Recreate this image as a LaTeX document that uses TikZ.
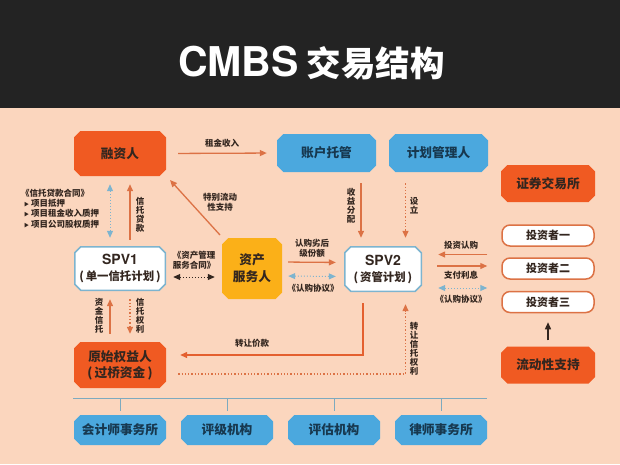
\documentclass[tikz,border=0pt]{standalone}
\usepackage{fontspec}
\usepackage{xcolor}
\setmainfont{Noto Sans CJK SC}
\newfontfamily\latinfont{TeX Gyre Heros}
\usetikzlibrary{arrows.meta}
\definecolor{peach}{HTML}{FBD6BE}
\definecolor{headblack}{HTML}{232323}
\definecolor{boxorange}{HTML}{F05A22}
\definecolor{boxblue}{HTML}{4BA8DE}
\definecolor{boxyellow}{HTML}{FBB018}
\definecolor{linkorange}{HTML}{DC7245}
\definecolor{linkred}{HTML}{E4602F}
\definecolor{linkblue}{HTML}{7DB4CF}
\definecolor{inkdark}{HTML}{33261F}
\definecolor{inkblue}{HTML}{17384F}
\newcommand{\octapath}{
  ([xshift=6.75pt,yshift=.75pt]path picture bounding box.south west) --
  ([xshift=-6.75pt,yshift=.75pt]path picture bounding box.south east) --
  ([xshift=-.75pt,yshift=6.75pt]path picture bounding box.south east) --
  ([xshift=-.75pt,yshift=-6.75pt]path picture bounding box.north east) --
  ([xshift=-6.75pt,yshift=-.75pt]path picture bounding box.north east) --
  ([xshift=6.75pt,yshift=-.75pt]path picture bounding box.north west) --
  ([xshift=.75pt,yshift=-6.75pt]path picture bounding box.north west) --
  ([xshift=.75pt,yshift=6.75pt]path picture bounding box.south west) -- cycle}
\tikzset{
  octa/.style 2 args={rectangle,inner sep=0pt,align=center,font=\fontsize{12.7}{16}\selectfont\bfseries,
    path picture={\filldraw[fill=#1,draw=#2,line width=1.5pt] \octapath;}},
  redbox/.style={octa={boxorange}{boxorange},text=inkdark,minimum width=92pt},
  bluebox/.style={octa={boxblue}{boxblue},text=inkblue,minimum width=99pt,minimum height=38pt},
  lowbox/.style={bluebox,minimum width=92pt,minimum height=30pt},
  spvbox/.style={octa={white}{linkblue},text=inkdark,font=\fontsize{11.4}{16}\selectfont\bfseries},
  investor/.style={rectangle,rounded corners=8pt,fill=white,draw=linkorange,line width=1.5pt,text=inkdark,minimum width=92pt,minimum height=21pt,inner sep=0pt,font=\fontsize{11}{12}\selectfont\bfseries},
  note/.style={inner sep=0pt,align=center,text=inkdark,font=\fontsize{8.5}{10.2}\selectfont\bfseries},
  upright/.style={note,font=\fontsize{8.5}{9}\selectfont\bfseries},
  flow/.style={-{Triangle[length=7pt,width=6pt]},linkorange,line width=1.3pt},
  dotflow/.style={flow,dotted},
  twoway/.style={{Triangle[length=7pt,width=6pt]}-{Triangle[length=7pt,width=6pt]},linkblue,line width=1pt,dotted},
  blackway/.style={twoway,inkdark}
}
\begin{document}
\begin{tikzpicture}[x=1pt,y=-1pt]
  \fill[peach] (0,0) rectangle (620,464);
  \useasboundingbox (0,0) rectangle (620,464);
  \fill[headblack] (0,0) rectangle (620,108);
  \node (title) at (311.5,63) [inner sep=0pt,text=white,font=\fontsize{34.5}{36}\selectfont\bfseries] {{\latinfont\fontsize{41}{44}\selectfont CMBS} 交易结构};

  % boxes
  \node (rongzi) at (120,153.5) [redbox,minimum height=45pt] {融资人};
  \node (zhanghu) at (326.5,153) [bluebox] {账户托管};
  \node (jihua) at (438.5,153) [bluebox] {计划管理人};
  \node (jiaoyi) at (548,183.5) [redbox,minimum width=94pt,minimum height=37pt] {证券交易所};
  \node (touzi1) at (548,235.5) [investor] {投资者一};
  \node (touzi2) at (548,268.5) [investor] {投资者二};
  \node (touzi3) at (548,302) [investor] {投资者三};
  \node (liudong) at (548,365) [redbox,minimum width=94pt,minimum height=37pt] {流动性支持};
  \node (spv1) at (120,268.5) [spvbox,minimum width=92pt,minimum height=45pt] {{\latinfont\fontsize{14}{16}\selectfont SPV1}\\(\,单一信托计划\,)};
  \node (spv2) at (383,269) [spvbox,minimum width=78pt,minimum height=46pt] {{\latinfont\fontsize{14}{16}\selectfont SPV2}\\(\,资管计划\,)};
  \node (fuwu) at (252,268.5) [octa={boxyellow}{boxyellow},text=inkdark,minimum width=60pt,minimum height=61pt,font=\fontsize{12.7}{17}\selectfont\bfseries] {资产\\服务人};
  \node (yuanshi) at (120,365) [redbox,minimum height=46pt] {原始权益人\\(\,过桥资金\,)};
  \node (kuaiji) at (120,430) [lowbox] {会计师事务所};
  \node (pingji) at (227,430) [lowbox] {评级机构};
  \node (pinggu) at (334,430) [lowbox] {评估机构};
  \node (lvshi) at (441,430) [lowbox] {律师事务所};

  % rail above the bottom row
  \coordinate (railw) at (73,398);
  \coordinate (raile) at (487,398);
  \draw[linkblue!80!gray,line width=.7pt] (railw) -- (raile);
  \foreach \n in {kuaiji,pingji,pinggu,lvshi}
    \draw[linkblue!80!gray,line width=.7pt] (\n.north |- railw) -- ([yshift=4pt]\n.north);

  % connectors
  \draw[flow,shorten <=12pt,shorten >=10pt] (rongzi.east) -- (zhanghu.west);
  \draw[flow,shorten <=6pt,shorten >=8pt] ([xshift=10pt]spv1.north) -- ([xshift=10pt]rongzi.south);
  \draw[twoway,shorten <=8pt,shorten >=8pt] ([xshift=-10pt]rongzi.south) -- ([xshift=-10pt]spv1.north);
  \coordinate (fuwustart) at (220,235);
  \coordinate (rongziend) at (170,180);
  \draw[flow] (fuwustart) -- (rongziend);
  \draw[blackway,shorten <=7pt,shorten >=7pt] ([yshift=-8.5pt]spv1.east) -- ([yshift=-8.5pt]fuwu.west);
  \draw[flow,shorten <=6pt,shorten >=8pt] ([yshift=6.5pt]fuwu.east) -- ([yshift=6.5pt]spv2.west);
  \draw[twoway,shorten <=6pt,shorten >=8pt] ([yshift=-7.5pt]fuwu.east) -- ([yshift=-7.5pt]spv2.west);
  \draw[flow,shorten <=11pt,shorten >=8pt] (zhanghu.south -| 361,0) -- (spv2.north -| 361,0);
  \draw[dotflow,shorten <=11pt,shorten >=8pt] (jihua.south -| 405.5,0) -- (spv2.north -| 405.5,0);
  \draw[flow,shorten <=14pt,shorten >=16pt] (touzi1.west |- 0,254.5) -- (spv2.east |- 0,254.5);
  \draw[flow,shorten <=15pt,shorten >=14pt] (spv2.east |- 0,266) -- (touzi2.west |- 0,266);
  \draw[twoway,shorten <=16pt,shorten >=14pt] (spv2.east |- 0,288) -- (touzi2.west |- 0,288);
  \draw[-{Triangle[length=7pt,width=6pt]},inkdark,line width=1.3pt,shorten <=6pt,shorten >=9pt] (liudong.north) -- (touzi3.south);
  \draw[flow,shorten <=8pt,shorten >=8pt] ([xshift=-10pt]yuanshi.north) -- ([xshift=-10pt]spv1.south);
  \draw[dotflow,shorten <=8pt,shorten >=8pt] ([xshift=10pt]spv1.south) -- ([xshift=10pt]yuanshi.north);
  \draw[flow,linkred,shorten <=11pt,shorten >=14pt] (spv2.south -| 363,0) |- (yuanshi.east |- 0,355);
  \draw[dotflow,shorten <=12pt,shorten >=12pt] (yuanshi.east |- 0,374) -| (spv2.south -| 405.5,0);

  % labels
  \node (lzujin) at (222,143) [note] {租金收入};
  \node (ltedie) at (220,202) [note] {特别流动\\性支持};
  \node (lhetong) at (194,260.5) [note] {《资产管理\\服务合同》};
  \node (lliehou) at (312,248) [note] {认购劣后\\级份额};
  \node (lxieyi) at (313,288) [note] {《认购协议》};
  \node (lrengou) at (461,245) [note] {投资认购};
  \node (lzhifu) at (461,275.5) [note] {支付利息};
  \node (lxieyib) at (461,299.5) [note] {《认购协议》};
  \node (lzhuan) at (252,343) [note] {转让价款};
  \node (ldaikuan) at (140,215) [upright] {信\\托\\贷\\款};
  \node (lfenpei) at (351,206) [upright] {收\\益\\分\\配};
  \node (lsheli) at (414,206) [upright] {设\\立};
  \node (lzijin) at (99,316) [upright] {资\\金\\信\\托};
  \node (lquanli) at (140,316) [upright] {信\\托\\权\\利};
  \node (lzhuanrang) at (414,349) [upright] {转\\让\\信\\托\\权\\利};
  \node (lliebiao) at (21,208.5) [note,anchor=west,align=left] {《信托贷款合同》\\
    \hspace*{3pt}{\fontsize{5}{10}\selectfont ▶} 项目抵押\\
    \hspace*{3pt}{\fontsize{5}{10}\selectfont ▶} 项目租金收入质押\\
    \hspace*{3pt}{\fontsize{5}{10}\selectfont ▶} 项目公司股权质押};
\end{tikzpicture}
\end{document}
